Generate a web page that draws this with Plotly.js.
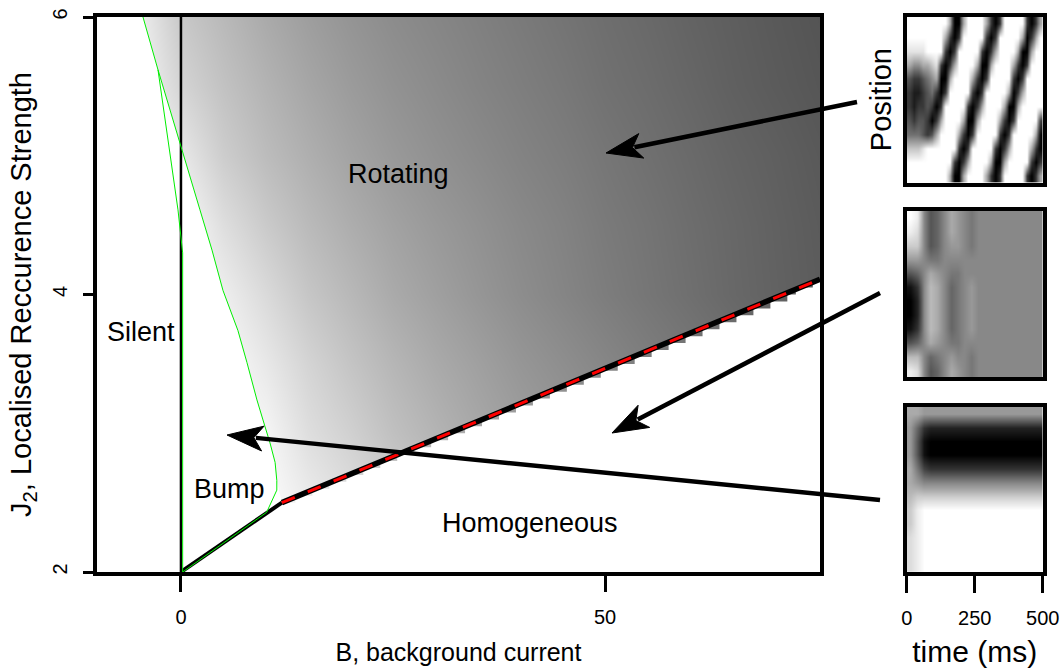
<!DOCTYPE html>
<html>
<head>
<meta charset="utf-8">
<script src="https://cdn.plot.ly/plotly-3.0.1.min.js"></script>
<style>
  html, body { margin: 0; padding: 0; background: #ffffff; overflow: hidden; }
  #chart { width: 1061px; height: 669px; }
</style>
</head>
<body>
<div id="chart"></div>
<script>
// ---- phase diagram: background current B vs localised recurrence strength J2 ----
const bCols  = [-10, -5, 0, 5, 10, 15, 20, 25, 30, 35, 40, 45, 50, 55, 60, 65, 70, 75.5];
const j2Rows = [2, 2.5, 3, 3.5, 4, 4.5, 5, 5.5, 6];
// grey level (0 black .. 255 white) of the rotating-state measure, one row per J2 value
const shadeLevel = [
  [255, 255, 255, 255, 250, 238, 224, 210, 198, 186, 176, 166, 157, 148, 140, 132, 124, 116],
  [255, 255, 255, 255, 252, 236, 222, 206, 194, 182, 170, 160, 150, 142, 134, 126, 118, 110],
  [254, 254, 254, 253, 245, 222, 208, 192, 180, 168, 158, 150, 142, 134, 126, 118, 111, 104],
  [253, 253, 253, 250, 232, 212, 196, 182, 170, 160, 150, 142, 134, 126, 119, 112, 105,  98],
  [252, 252, 252, 238, 218, 198, 184, 170, 160, 150, 141, 133, 125, 118, 111, 104,  98,  92],
  [252, 252, 250, 222, 202, 186, 173, 162, 153, 145, 137, 130, 122, 116, 109, 103,  97,  91],
  [250, 250, 232, 205, 188, 175, 163, 153, 145, 138, 131, 125, 118, 112, 106, 100,  95,  89],
  [248, 245, 212, 194, 179, 166, 155, 146, 139, 132, 126, 120, 113, 108, 102,  96,  91,  86],
  [245, 238, 200, 185, 170, 158, 148, 140, 134, 128, 122, 116, 110, 105,  99,  94,  89,  84]
];
// simulation grid spacing (one cell = 1 unit of B by 0.05 of J2)
const gridStepB = 1, gridStepJ2 = 0.05;

// edge of the rotating region (bump side)
const rotEdgeB  = [-4.48, -2.71, 2.24, 3.66, 4.95, 6.72, 7.78, 8.96, 9.9, 10.5, 11.1, 11.3, 11.9];
const rotEdgeJ2 = [6.0,   5.62, 4.61, 4.32, 4.03, 3.74, 3.51, 3.24, 3.05, 2.93, 2.79, 2.66, 2.5];

// numerically traced boundaries (green)
const greenOuterB  = [-4.48, -2.71, 2.24, 3.66, 4.95, 6.72, 7.78, 8.96, 9.9, 10.5, 11.1, 11.3, 11.3, 10.1, 0.2];
const greenOuterJ2 = [6.0,   5.62, 4.61, 4.32, 4.03, 3.74, 3.51, 3.24, 3.05, 2.93, 2.79, 2.66, 2.59, 2.43, 2.0];
const greenInnerB  = [-2.71, -0.35, 0.2, 0.2];
const greenInnerJ2 = [5.62,   4.61, 4.3, 2.0];

// analytic boundaries (black)
const silentB = [0, 0],        silentJ2 = [2, 6];
const bumpB   = [0, 11.9],     bumpJ2   = [2, 2.5];
const homogB  = [11.9, 75.35], homogJ2  = [2.5, 4.11];

// region names and their positions (B, J2)
const regionText = ['Rotating', 'Silent', 'Bump', 'Homogeneous'];
const regionB    = [25.6, -4.7, 5.7, 41.2];
const regionJ2   = [4.87, 3.73, 2.6, 2.35];

// ---- example activity maps (time 0..500 ms, position around the ring) ----
// each string is one position row, top row first; one hex digit = darkness
const rotatingRows = [
  '000000000399300003797000007973',
  '000000003797000007970000039730',
  '111100007970000079730000399300',
  '344332179730000399300003797000',
  '677654399300003797000007970000',
  '788765797000007970000039730000',
  '787767970000079730000399300000',
  '676679730000399300003797000007',
  '555676300003797000007970000039',
  '222100000007970000079730000379',
  '000000000079730000399300000797',
  '000000000399300003797000007973'
];
const homogRows = [
  '017A9756787777777777',
  '127A9756787777777777',
  '337A9766787777777777',
  '66788777777777777777',
  'A9756788777777777777',
  'EC745798767777777777',
  'FD745798767777777777',
  'FD745798767777777777',
  'EC745798767777777777',
  'A9756788777777777777',
  '44798767787777777777',
  '127A9756787777777777'
];
const bumpRows = [
  '55666666666666666666',
  '69CDDDDDDDDDDDDDDDDD',
  '6AEFFFFFFFFFFFFFFFFF',
  '6AEFFFFFFFFFFFFFFFFF',
  '58BCCCCCCCCCCCCCCCCC',
  '56777777777777777777',
  '43333333333333333333',
  '31000000000000000000',
  '31000000000000000000',
  '21000000000000000000',
  '21000000000000000000',
  '21000000000000000000'
];
const timeTicks = [0, 250, 500];

// pointer arrows from each example map to its region (pixel positions on the page)
const arrowTailX = [857, 880, 880];
const arrowTailY = [102, 293, 500];
const arrowTipX  = [606, 612, 227];
const arrowTipY  = [153, 433, 435];

const FONT = 'Liberation Sans, Arial, sans-serif';
const W = 1061, H = 669;

function toGrid(rows) {
  return rows.slice().reverse().map(r => r.split('').map(c => parseInt(c, 16)));
}

const traces = [];

traces.push({
  type: 'heatmap', x: bCols, y: j2Rows, z: shadeLevel,
  colorscale: [[0, '#000000'], [1, '#ffffff']], zmin: 0, zmax: 255,
  zsmooth: 'best', showscale: false, hoverinfo: 'skip', xaxis: 'x', yaxis: 'y'
});

// white areas: silent / bump (left) and homogeneous (below)
const leftMaskX = [-12, rotEdgeB[0]].concat(rotEdgeB, [bumpB[0], -12]);
const leftMaskY = [6.4, 6.4].concat(rotEdgeJ2, [bumpJ2[0], bumpJ2[0]]);
traces.push({ type: 'scatter', mode: 'lines', x: leftMaskX, y: leftMaskY, fill: 'toself',
  fillcolor: '#ffffff', line: { width: 0, color: '#ffffff' }, hoverinfo: 'skip' });

// homogeneous area: shaded grid cells reach down in steps just under the boundary line
const slope = (homogJ2[1] - homogJ2[0]) / (homogB[1] - homogB[0]);
const lowMaskX = [bumpB[0], bumpB[1]], lowMaskY = [bumpJ2[0], bumpJ2[1]];
for (let b = Math.ceil(homogB[0]); b <= Math.ceil(homogB[1]); b += gridStepB) {
  const onLine = homogJ2[0] + slope * (b - homogB[0]);
  const bottom = 2 + Math.floor((onLine - 2) / gridStepJ2 + 1e-9) * gridStepJ2;
  lowMaskX.push(b - gridStepB / 2, b + gridStepB / 2);
  lowMaskY.push(bottom, bottom);
}
lowMaskX.push(80, 80, bumpB[0]);
lowMaskY.push(lowMaskY[lowMaskY.length - 1], 1.5, 1.5);
traces.push({ type: 'scatter', mode: 'lines', x: lowMaskX, y: lowMaskY, fill: 'toself',
  fillcolor: '#ffffff', line: { width: 0, color: '#ffffff' }, hoverinfo: 'skip' });

traces.push({ type: 'scatter', mode: 'lines', x: silentB, y: silentJ2,
  line: { color: '#000000', width: 2.5 }, hoverinfo: 'skip' });
traces.push({ type: 'scatter', mode: 'lines', x: bumpB, y: bumpJ2,
  line: { color: '#000000', width: 4 }, hoverinfo: 'skip' });
traces.push({ type: 'scatter', mode: 'lines', x: homogB, y: homogJ2,
  line: { color: '#000000', width: 5.5 }, hoverinfo: 'skip' });
traces.push({ type: 'scatter', mode: 'lines', x: greenOuterB, y: greenOuterJ2,
  line: { color: '#00ee00', width: 1 }, hoverinfo: 'skip' });
traces.push({ type: 'scatter', mode: 'lines', x: greenInnerB, y: greenInnerJ2,
  line: { color: '#00ee00', width: 1 }, hoverinfo: 'skip' });
traces.push({ type: 'scatter', mode: 'lines', x: homogB, y: homogJ2,
  line: { color: '#ff0000', width: 3, dash: '14px,14px' }, hoverinfo: 'skip' });

// example maps
const greys = [[0, '#ffffff'], [1, '#000000']];
[[rotatingRows, 'x2', 'y2', 9], [homogRows, 'x3', 'y3', 15], [bumpRows, 'x4', 'y4', 15]].forEach(p => {
  const nCols = p[0][0].length, nRows = p[0].length;
  traces.push({
    type: 'heatmap', z: toGrid(p[0]),
    x0: 250 / nCols, dx: 500 / nCols, y0: 0.5 / nRows, dy: 1 / nRows,
    colorscale: greys, zmin: 0, zmax: p[3], zsmooth: 'best', showscale: false,
    hoverinfo: 'skip', xaxis: p[1], yaxis: p[2]
  });
});

// arrows on a page-wide pixel layer
for (let i = 0; i < arrowTailX.length; i++) {
  const dx = arrowTailX[i] - arrowTipX[i], dy = arrowTailY[i] - arrowTipY[i];
  const len = Math.hypot(dx, dy), ux = dx / len, uy = dy / len, nx = -uy, ny = ux;
  const L = 36, N = 27, HW = 12.5;
  const tx = arrowTipX[i], ty = arrowTipY[i];
  traces.push({ type: 'scatter', mode: 'lines', xaxis: 'x5', yaxis: 'y5',
    x: [arrowTailX[i], tx + ux * (N + 2)], y: [arrowTailY[i], ty + uy * (N + 2)],
    line: { color: '#000000', width: 4.5 }, hoverinfo: 'skip' });
  traces.push({ type: 'scatter', mode: 'lines', xaxis: 'x5', yaxis: 'y5', fill: 'toself',
    fillcolor: '#000000', line: { color: '#000000', width: 1 }, hoverinfo: 'skip',
    x: [tx, tx + ux * L + nx * HW, tx + ux * N, tx + ux * L - nx * HW, tx],
    y: [ty, ty + uy * L + ny * HW, ty + uy * N, ty + uy * L - ny * HW, ty] });
}

const frame = { showline: true, linecolor: '#000000', linewidth: 4, mirror: true,
  showgrid: false, zeroline: false };
const panelX = Object.assign({}, frame, { domain: [906.7 / W, 1042.7 / W], range: [0, 500],
  showticklabels: false, ticks: '', fixedrange: true });
const panelY = Object.assign({}, frame, { range: [0, 1], showticklabels: false, ticks: '', fixedrange: true });

const layout = {
  width: W, height: H, margin: { l: 0, r: 0, t: 0, b: 0 },
  paper_bgcolor: '#ffffff', plot_bgcolor: 'rgba(0,0,0,0)',
  showlegend: false, font: { family: FONT, color: '#000000' },
  xaxis: Object.assign({}, frame, {
    domain: [97 / W, 820 / W], range: [-9.9, 75.35], anchor: 'y',
    tickvals: [0, 50], ticks: 'outside', ticklen: 16, tickwidth: 3, tickcolor: '#000000',
    tickfont: { size: 20, family: FONT }, ticklabelstandoff: 8,
    title: { text: 'B, background current', font: { size: 25, family: FONT }, standoff: 17 }
  }),
  yaxis: Object.assign({}, frame, {
    domain: [(H - 572) / H, (H - 17) / H], range: [2, 6], anchor: 'x',
    tickvals: [2, 4, 6], ticks: 'outside', ticklen: 10, tickwidth: 3, tickcolor: '#000000',
    tickangle: -90, tickfont: { size: 20, family: FONT }, ticklabelstandoff: 8,
    title: { text: 'J<sub>2</sub>, Localised Reccurence Strength', font: { size: 29, family: FONT }, standoff: 10 }
  }),
  xaxis2: Object.assign({}, panelX, { anchor: 'y2' }),
  yaxis2: Object.assign({}, panelY, { anchor: 'x2', domain: [(H - 182.7) / H, (H - 16.5) / H],
    title: { text: 'Position', font: { size: 29, family: FONT }, standoff: 4 } }),
  xaxis3: Object.assign({}, panelX, { anchor: 'y3' }),
  yaxis3: Object.assign({}, panelY, { anchor: 'x3', domain: [(H - 377.3) / H, (H - 210.7) / H] }),
  xaxis4: Object.assign({}, panelX, { anchor: 'y4', showticklabels: true, ticklabeloverflow: 'allow',
    tickvals: timeTicks, ticks: 'outside', ticklen: 17, tickwidth: 3, tickcolor: '#000000',
    tickfont: { size: 20, family: FONT }, ticklabelstandoff: 8,
    title: { text: 'time (ms)', font: { size: 30, family: FONT }, standoff: 14 } }),
  yaxis4: Object.assign({}, panelY, { anchor: 'x4', domain: [(H - 572) / H, (H - 406.7) / H] }),
  xaxis5: { domain: [0, 1], range: [0, W], visible: false, anchor: 'y5', fixedrange: true },
  yaxis5: { domain: [0, 1], range: [H, 0], visible: false, anchor: 'x5', fixedrange: true },
  annotations: regionText.map((t, i) => ({
    text: t, x: regionB[i], y: regionJ2[i], xref: 'x', yref: 'y', showarrow: false,
    font: { size: 27, family: FONT, color: '#000000' }
  }))
};

Plotly.newPlot('chart', traces, layout, { staticPlot: true, displayModeBar: false });
</script>
</body>
</html>
